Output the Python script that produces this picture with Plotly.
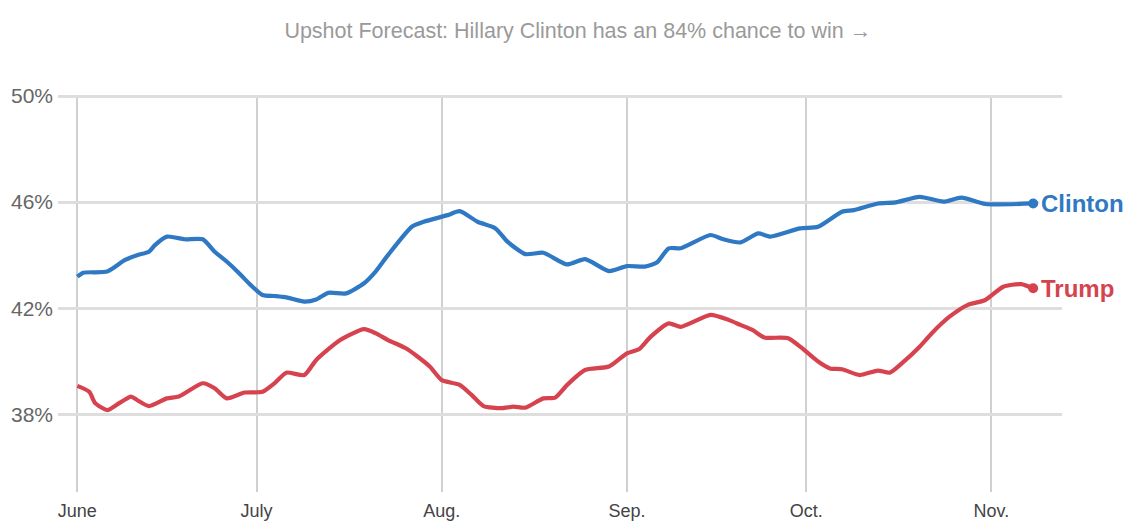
import plotly.graph_objects as go
import pandas as pd

# ---- data ----
clinton_dates = ["2016-06-01", "2016-06-02", "2016-06-06", "2016-06-09", "2016-06-11", "2016-06-13",
                 "2016-06-14", "2016-06-16", "2016-06-19", "2016-06-22", "2016-06-24", "2016-06-26",
                 "2016-06-28", "2016-06-30", "2016-07-02", "2016-07-04", "2016-07-06", "2016-07-09",
                 "2016-07-11", "2016-07-13", "2016-07-16", "2016-07-19", "2016-07-21", "2016-07-23",
                 "2016-07-27", "2016-07-29", "2016-08-02", "2016-08-04", "2016-08-07", "2016-08-10",
                 "2016-08-12", "2016-08-15", "2016-08-18", "2016-08-22", "2016-08-25", "2016-08-29",
                 "2016-09-01", "2016-09-04", "2016-09-06", "2016-09-08", "2016-09-10", "2016-09-15",
                 "2016-09-17", "2016-09-20", "2016-09-23", "2016-09-25", "2016-09-30", "2016-10-03",
                 "2016-10-07", "2016-10-09", "2016-10-13", "2016-10-16", "2016-10-20", "2016-10-24",
                 "2016-10-27", "2016-10-31", "2016-11-08"]
clinton_values = [43.19, 43.34, 43.38, 43.82, 44.00, 44.13,
                  44.38, 44.70, 44.60, 44.60, 44.13, 43.76,
                  43.34, 42.88, 42.50, 42.46, 42.41, 42.25,
                  42.33, 42.58, 42.56, 42.94, 43.40, 44.00,
                  45.07, 45.26, 45.51, 45.66, 45.26, 45.01,
                  44.51, 44.04, 44.09, 43.65, 43.85, 43.40,
                  43.59, 43.57, 43.72, 44.26, 44.26, 44.76,
                  44.61, 44.48, 44.82, 44.70, 45.01, 45.07,
                  45.64, 45.70, 45.95, 45.99, 46.20, 46.02,
                  46.17, 45.93, 45.95]

trump_dates = ["2016-06-01", "2016-06-03", "2016-06-04", "2016-06-06", "2016-06-08", "2016-06-10",
               "2016-06-11", "2016-06-13", "2016-06-16", "2016-06-18", "2016-06-22", "2016-06-24",
               "2016-06-26", "2016-06-29", "2016-07-02", "2016-07-04", "2016-07-06", "2016-07-09",
               "2016-07-11", "2016-07-15", "2016-07-19", "2016-07-21", "2016-07-23", "2016-07-26",
               "2016-07-28", "2016-07-30", "2016-08-01", "2016-08-04", "2016-08-06", "2016-08-08",
               "2016-08-11", "2016-08-13", "2016-08-15", "2016-08-18", "2016-08-20", "2016-08-22",
               "2016-08-25", "2016-08-29", "2016-09-01", "2016-09-03", "2016-09-05", "2016-09-08",
               "2016-09-10", "2016-09-15", "2016-09-18", "2016-09-20", "2016-09-22", "2016-09-24",
               "2016-09-28", "2016-09-30", "2016-10-03", "2016-10-05", "2016-10-07", "2016-10-10",
               "2016-10-13", "2016-10-15", "2016-10-17", "2016-10-20", "2016-10-22", "2016-10-25",
               "2016-10-28", "2016-10-31", "2016-11-03", "2016-11-06", "2016-11-08"]
trump_values = [39.07, 38.85, 38.42, 38.16, 38.42, 38.67,
                38.54, 38.31, 38.60, 38.67, 39.17, 38.98,
                38.60, 38.82, 38.85, 39.17, 39.57, 39.48,
                40.05, 40.80, 41.21, 41.05, 40.80, 40.49,
                40.17, 39.80, 39.29, 39.11, 38.73, 38.31,
                38.23, 38.29, 38.25, 38.60, 38.63, 39.11,
                39.67, 39.80, 40.30, 40.45, 40.93, 41.43,
                41.30, 41.75, 41.56, 41.37, 41.18, 40.90,
                40.87, 40.55, 39.99, 39.73, 39.70, 39.48,
                39.65, 39.57, 39.92, 40.55, 41.05, 41.68,
                42.12, 42.31, 42.81, 42.91, 42.75]

month_ticks = ["2016-06-01", "2016-07-01", "2016-08-01", "2016-09-01", "2016-10-01", "2016-11-01"]
month_labels = ["June", "July", "Aug.", "Sep.", "Oct.", "Nov."]
y_ticks = [38, 42, 46, 50]
y_labels = ["38%", "42%", "46%", "50%"]

title_text = "Upshot Forecast: Hillary Clinton has an 84% chance to win \u2192"

CLINTON = "#2f78c4"
TRUMP = "#d6434f"
FONT = "Liberation Sans, Arial, sans-serif"

fig = go.Figure()
for dates, vals, col, name in [(clinton_dates, clinton_values, CLINTON, "Clinton"),
                               (trump_dates, trump_values, TRUMP, "Trump")]:
    fig.add_trace(go.Scatter(x=dates, y=vals, mode="lines", name=name,
                             line=dict(color=col, width=4.2, shape="spline", smoothing=0.6),
                             hoverinfo="skip", showlegend=False))
    fig.add_trace(go.Scatter(x=[dates[-1]], y=[vals[-1]], mode="markers",
                             marker=dict(color=col, size=10), showlegend=False, hoverinfo="skip"))
    fig.add_annotation(x=dates[-1], y=vals[-1], text=f"<b>{name}</b>", showarrow=False,
                       xanchor="left", yanchor="middle", xshift=6, bgcolor="white", borderpad=1,
                       font=dict(family=FONT, size=24, color=col))

start = pd.Timestamp(month_ticks[0])
x_range = [start - pd.Timedelta(days=3.23), start + pd.Timedelta(days=164.83)]

fig.update_layout(
    width=1131, height=526,
    margin=dict(l=58, r=69, t=95, b=34),
    paper_bgcolor="white", plot_bgcolor="white",
    title=dict(text=title_text, x=0.5177, xref="paper", xanchor="center",
               y=1 - 30 / 526, yref="container", yanchor="middle",
               font=dict(family=FONT, size=21.5, color="#9a9a9a")),
    xaxis=dict(type="date", range=x_range, tickvals=month_ticks, ticktext=month_labels,
               showgrid=True, gridcolor="#d0d0d0", gridwidth=1.5, zeroline=False,
               showline=False, ticks="", ticklabelstandoff=6, automargin=False,
               tickfont=dict(family=FONT, size=18, color="#444444")),
    yaxis=dict(range=[35.07, 50.04], tickvals=y_ticks, ticktext=y_labels,
               showgrid=True, gridcolor="#dedede", gridwidth=2.5, zeroline=False,
               showline=False, ticks="", ticklabelstandoff=4, automargin=False,
               tickfont=dict(family=FONT, size=21, color="#666666")),
)

fig.write_html("out.html")
